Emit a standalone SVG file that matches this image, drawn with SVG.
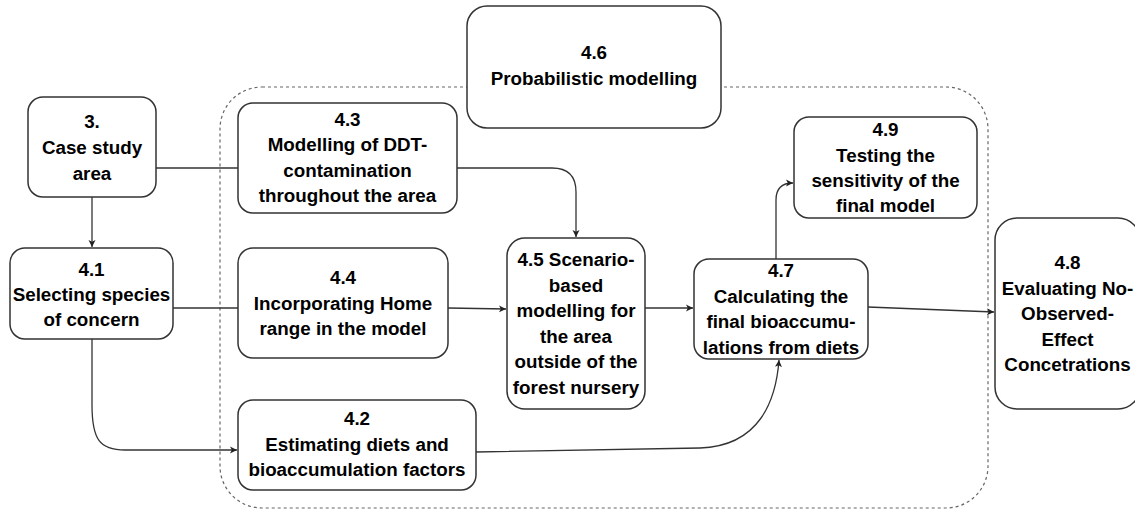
<svg xmlns="http://www.w3.org/2000/svg" width="1135" height="510" viewBox="0 0 1135 510">
<style>
.box{fill:#fff;stroke:#333;stroke-width:1.5}
.t{font-family:"Liberation Sans",Arial,sans-serif;font-weight:bold;font-size:18.8px;fill:#000;text-anchor:middle}
.e{fill:none;stroke:#333;stroke-width:1.3}
.dash{fill:none;stroke:#666;stroke-width:1.2;stroke-dasharray:3 3}
</style>
<defs>
<marker id="ah" markerWidth="8" markerHeight="8" refX="7" refY="4" orient="auto" markerUnits="userSpaceOnUse">
<path d="M0,0.5 L7,4 L0,7.5 L1.8,4 Z" fill="#222"/>
</marker>
</defs>
<rect id="container-4-6" class="dash" x="220" y="87" width="768" height="421" rx="42" ry="42"/>
<g id="connectors">
<path class="e" d="M92,197 L92,247" marker-end="url(#ah)"/>
<path class="e" d="M156,168 L238,168"/>
<path class="e" d="M457,168 L552,168 Q576,168 576,192 L576,237" marker-end="url(#ah)"/>
<path class="e" d="M173,308 L238,308"/>
<path class="e" d="M448,308 L506,309" marker-end="url(#ah)"/>
<path class="e" d="M92,339 L92,405 C92,440 100,450 125,450 L237,450" marker-end="url(#ah)"/>
<path class="e" d="M476,452 L700,448 C760,446 776,400 779,360" marker-end="url(#ah)"/>
<path class="e" d="M645,308 L693,308" marker-end="url(#ah)"/>
<path class="e" d="M776,259 L776,200 C776,188 782,183 793,183" marker-end="url(#ah)"/>
<path class="e" d="M868,307 L994,312" marker-end="url(#ah)"/>
</g>
<g id="n4-6"><rect class="box" x="467" y="6" width="254" height="122" rx="20"/>
<text class="t"><tspan x="594" y="59">4.6</tspan><tspan x="594" y="85">Probabilistic modelling</tspan></text></g>
<g id="n3"><rect class="box" x="28" y="97" width="128" height="100" rx="15"/>
<text class="t"><tspan x="92" y="128">3.</tspan><tspan x="92" y="154">Case study</tspan><tspan x="92" y="180">area</tspan></text></g>
<g id="n4-1"><rect class="box" x="10" y="248" width="163" height="91" rx="15"/>
<text class="t"><tspan x="91.5" y="276">4.1</tspan><tspan x="91.5" y="301">Selecting species</tspan><tspan x="91.5" y="326">of concern</tspan></text></g>
<g id="n4-3"><rect class="box" x="238" y="103" width="219" height="110" rx="15"/>
<text class="t"><tspan x="347.5" y="126">4.3</tspan><tspan x="347.5" y="151">Modelling of DDT-</tspan><tspan x="347.5" y="177">contamination</tspan><tspan x="347.5" y="202">throughout the area</tspan></text></g>
<g id="n4-4"><rect class="box" x="238" y="248" width="210" height="110" rx="15"/>
<text class="t"><tspan x="343" y="284">4.4</tspan><tspan x="343" y="310">Incorporating Home</tspan><tspan x="343" y="335">range in the model</tspan></text></g>
<g id="n4-2"><rect class="box" x="238" y="400" width="238" height="90" rx="15"/>
<text class="t"><tspan x="357" y="425">4.2</tspan><tspan x="357" y="451">Estimating diets and</tspan><tspan x="357" y="476">bioaccumulation factors</tspan></text></g>
<g id="n4-5"><rect class="box" x="507" y="238" width="138" height="171" rx="18"/>
<text class="t"><tspan x="576" y="266">4.5 Scenario-</tspan><tspan x="576" y="291.5">based</tspan><tspan x="576" y="317">modelling for</tspan><tspan x="576" y="342.5">the area</tspan><tspan x="576" y="368">outside of the</tspan><tspan x="576" y="393.5">forest nursery</tspan></text></g>
<g id="n4-7"><rect class="box" x="694" y="259" width="174" height="100" rx="15"/>
<text class="t"><tspan x="781" y="277">4.7</tspan><tspan x="781" y="302.5">Calculating the</tspan><tspan x="781" y="328">final bioaccumu-</tspan><tspan x="781" y="353.5">lations from diets</tspan></text></g>
<g id="n4-9"><rect class="box" x="794" y="117" width="183" height="101" rx="15"/>
<text class="t"><tspan x="885.5" y="136">4.9</tspan><tspan x="885.5" y="162">Testing the</tspan><tspan x="885.5" y="187">sensitivity of the</tspan><tspan x="885.5" y="212">final model</tspan></text></g>
<g id="n4-8"><rect class="box" x="995" y="218" width="145" height="191" rx="22"/>
<text class="t"><tspan x="1067.5" y="269">4.8</tspan><tspan x="1067.5" y="294.5">Evaluating No-</tspan><tspan x="1067.5" y="320">Observed-</tspan><tspan x="1067.5" y="345.5">Effect</tspan><tspan x="1067.5" y="371">Concetrations</tspan></text></g>
</svg>
